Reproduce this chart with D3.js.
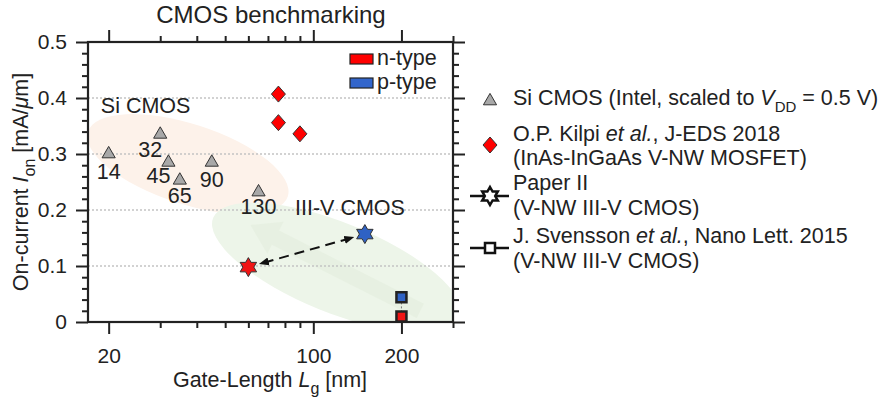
<!DOCTYPE html>
<html>
<head>
<meta charset="utf-8">
<script src="https://cdn.jsdelivr.net/npm/d3@7"></script>
<style>
  body { margin: 0; background: #fff; }
  text { font-family: "Liberation Sans", Arial, sans-serif; fill: #222; }
</style>
</head>
<body>
<div id="chart"></div>
<script>
// ---- data ----
const siNodes = ["14", "32", "45", "65", "90", "130"];
const siLg = [20, 30, 32, 35, 45, 65];
const siIon = [0.30, 0.335, 0.285, 0.253, 0.285, 0.232];

const kilpiLg = [76, 76, 90];
const kilpiIon = [0.407, 0.356, 0.336];

const paperType = ["n", "p"];
const paperLg = [60, 150];
const paperIon = [0.098, 0.157];

const svenssonType = ["n", "p"];
const svenssonLg = [200, 200];
const svenssonIon = [0.01, 0.044];

const xMajorTicks = [20, 100, 200];
const xMinorTicks = [30, 40, 50, 60, 70, 80, 90, 300];
const yMajorTicks = [0, 0.1, 0.2, 0.3, 0.4, 0.5];
const yGridLines = [0.1, 0.2, 0.3, 0.4];

// label offsets for node numbers (px, relative to marker)
const nodeLabelOffset = [[0, 25], [-10, 23], [-10, 21], [0, 23], [0, 25], [0, 22]];

const width = 886, height = 402;
const plot = { left: 88, right: 453, top: 42, bottom: 322 };
const red = "#f01414", blue = "#2f62c4", gray = "#a8a8a8", edge = "#333";

const x = d3.scaleLog().domain([17, 300]).range([plot.left, plot.right]);
const y = d3.scaleLinear().domain([0, 0.5]).range([plot.bottom, plot.top]);

const svg = d3.select("#chart").append("svg")
  .attr("width", width)
  .attr("height", height);

const defs = svg.append("defs");
defs.append("clipPath").attr("id", "plotClip")
  .append("rect")
  .attr("x", plot.left).attr("y", plot.top)
  .attr("width", plot.right - plot.left)
  .attr("height", plot.bottom - plot.top);

["start", "end"].forEach(k => {
  defs.append("marker")
    .attr("id", "arrow-" + k)
    .attr("viewBox", "0 -5 10 10")
    .attr("refX", 5).attr("refY", 0)
    .attr("markerWidth", 5).attr("markerHeight", 5)
    .attr("orient", "auto-start-reverse")
    .append("path")
    .attr("d", "M0,-4L10,0L0,4Z")
    .attr("fill", "#111");
});

function starPath(R) {
  const pts = [];
  for (let i = 0; i < 12; i++) {
    const a = -Math.PI / 2 + i * Math.PI / 6;
    const r = i % 2 === 0 ? R : R * 0.577;
    pts.push([r * Math.cos(a), r * Math.sin(a)]);
  }
  return "M" + pts.map(p => p.join(",")).join("L") + "Z";
}
const diamondPath = "M0,-8L7,0L0,8L-7,0Z";
const squarePath = "M-5,-5H5V5H-5Z";
const trianglePath = d3.symbol(d3.symbolTriangle, 75)();

// ---- shaded regions ----
const regions = svg.append("g").attr("clip-path", "url(#plotClip)");

regions.append("ellipse")
  .attr("transform", `translate(${x(37.3)},${y(0.282)}) rotate(18)`)
  .attr("rx", 105).attr("ry", 40)
  .attr("fill", "#fdf2ea");

regions.append("ellipse")
  .attr("transform", `translate(${x(120)},${y(0.097)}) rotate(22)`)
  .attr("rx", 133).attr("ry", 45)
  .attr("fill", "#edf5e9");

// faint trend arrow inside III-V region
{
  const x0 = x(232), y0 = y(0.02), x1 = x(61), y1 = y(0.173);
  const ang = Math.atan2(y1 - y0, x1 - x0) * 180 / Math.PI;
  const len = Math.hypot(x1 - x0, y1 - y0);
  regions.append("path")
    .attr("transform", `translate(${x0},${y0}) rotate(${ang})`)
    .attr("d", `M0,-8L${len - 28},-8L${len - 28},-18L${len},0L${len - 28},18L${len - 28},8L0,8Z`)
    .attr("fill", "#dfeada")
    .attr("opacity", 0.45);
}

// ---- grid ----
svg.append("g").selectAll("line")
  .data(yGridLines)
  .join("line")
  .attr("x1", plot.left).attr("x2", plot.right)
  .attr("y1", d => y(d)).attr("y2", d => y(d))
  .attr("stroke", "#c4c4c4")
  .attr("stroke-width", 1.5)
  .attr("stroke-dasharray", "2,2");

// ---- axes ----
const fmtY = d => d === 0 ? "0" : d3.format(".1f")(d);
const yMinorTicks = d3.range(0, 0.501, 0.02).filter(v => Math.abs(Math.round(v * 10) - v * 10) > 0.01);

function styleAxis(g) {
  g.select(".domain").remove();
  g.selectAll("line").attr("stroke", "#222").attr("stroke-width", 2);
  g.selectAll("text").attr("font-size", 21).attr("fill", "#222");
}

svg.append("g").attr("transform", `translate(0,${plot.bottom})`)
  .call(d3.axisBottom(x).tickValues(xMajorTicks).tickFormat(d3.format("d")).tickSize(12).tickPadding(14))
  .call(styleAxis);
svg.append("g").attr("transform", `translate(0,${plot.bottom})`)
  .call(d3.axisBottom(x).tickValues(xMinorTicks).tickFormat("").tickSize(6))
  .call(styleAxis);
svg.append("g").attr("transform", `translate(0,${plot.top})`)
  .call(d3.axisTop(x).tickValues(xMajorTicks).tickFormat("").tickSize(12))
  .call(styleAxis);
svg.append("g").attr("transform", `translate(0,${plot.top})`)
  .call(d3.axisTop(x).tickValues(xMinorTicks).tickFormat("").tickSize(6))
  .call(styleAxis);

svg.append("g").attr("transform", `translate(${plot.left},0)`)
  .call(d3.axisLeft(y).tickValues(yMajorTicks).tickFormat(fmtY).tickSize(12).tickPadding(9))
  .call(styleAxis);
svg.append("g").attr("transform", `translate(${plot.left},0)`)
  .call(d3.axisLeft(y).tickValues(yMinorTicks).tickFormat("").tickSize(6))
  .call(styleAxis);
svg.append("g").attr("transform", `translate(${plot.right},0)`)
  .call(d3.axisRight(y).tickValues(yMajorTicks).tickFormat("").tickSize(12))
  .call(styleAxis);
svg.append("g").attr("transform", `translate(${plot.right},0)`)
  .call(d3.axisRight(y).tickValues(yMinorTicks).tickFormat("").tickSize(6))
  .call(styleAxis);

svg.append("rect")
  .attr("x", plot.left).attr("y", plot.top)
  .attr("width", plot.right - plot.left)
  .attr("height", plot.bottom - plot.top)
  .attr("fill", "none")
  .attr("stroke", "#222")
  .attr("stroke-width", 2.2);

// ---- titles ----
svg.append("text")
  .attr("x", 271).attr("y", 23)
  .attr("text-anchor", "middle")
  .attr("font-size", 24)
  .text("CMOS benchmarking");

const xl = svg.append("text")
  .attr("x", 270).attr("y", 387)
  .attr("text-anchor", "middle")
  .attr("font-size", 21.5);
xl.append("tspan").text("Gate-Length ");
xl.append("tspan").attr("font-style", "italic").text("L");
xl.append("tspan").attr("font-size", 16).attr("dy", 7).text("g");
xl.append("tspan").attr("dy", -7).text(" [nm]");

const yl = svg.append("text")
  .attr("transform", `translate(28,${(plot.top + plot.bottom) / 2}) rotate(-90)`)
  .attr("text-anchor", "middle")
  .attr("font-size", 21.5);
yl.append("tspan").text("On-current ");
yl.append("tspan").attr("font-style", "italic").text("I");
yl.append("tspan").attr("font-size", 16).attr("dy", 7).text("on");
yl.append("tspan").attr("dy", -7).text(" [mA/");
yl.append("tspan").attr("font-style", "italic").text("\u03bc");
yl.append("tspan").text("m]");

// ---- region annotations ----
svg.append("text").attr("x", x(18.8)).attr("y", y(0.373)).attr("font-size", 21.5).text("Si CMOS");
svg.append("text").attr("x", x(86.6)).attr("y", y(0.191)).attr("font-size", 21.5).text("III-V CMOS");

// ---- Si CMOS triangles ----
const siData = siNodes.map((n, i) => ({ node: n, lg: siLg[i], ion: siIon[i], off: nodeLabelOffset[i] }));
svg.append("g").selectAll("path")
  .data(siData)
  .join("path")
  .attr("transform", d => `translate(${x(d.lg)},${y(d.ion)})`)
  .attr("d", trianglePath)
  .attr("fill", gray)
  .attr("stroke", edge)
  .attr("stroke-width", 1);
svg.append("g").selectAll("text")
  .data(siData)
  .join("text")
  .attr("x", d => x(d.lg) + d.off[0])
  .attr("y", d => y(d.ion) + d.off[1])
  .attr("text-anchor", "middle")
  .attr("font-size", 21.5)
  .text(d => d.node);

// ---- Kilpi diamonds ----
svg.append("g").selectAll("path")
  .data(kilpiLg.map((lg, i) => ({ lg, ion: kilpiIon[i] })))
  .join("path")
  .attr("transform", d => `translate(${x(d.lg)},${y(d.ion)})`)
  .attr("d", diamondPath)
  .attr("fill", "#ff0000")
  .attr("stroke", edge)
  .attr("stroke-width", 1);

// ---- Paper II stars + double arrow ----
const paperData = paperType.map((t, i) => ({ t, lg: paperLg[i], ion: paperIon[i] }));
{
  const a = paperData[0], b = paperData[1];
  const ax = x(a.lg), ay = y(a.ion), bx = x(b.lg), by = y(b.ion);
  const len = Math.hypot(bx - ax, by - ay), ux = (bx - ax) / len, uy = (by - ay) / len;
  svg.append("line")
    .attr("x1", ax + ux * 16).attr("y1", ay + uy * 16)
    .attr("x2", bx - ux * 16).attr("y2", by - uy * 16)
    .attr("stroke", "#111")
    .attr("stroke-width", 2)
    .attr("stroke-dasharray", "10,6")
    .attr("marker-start", "url(#arrow-start)")
    .attr("marker-end", "url(#arrow-end)");
}
svg.append("g").selectAll("path")
  .data(paperData)
  .join("path")
  .attr("transform", d => `translate(${x(d.lg)},${y(d.ion)})`)
  .attr("d", starPath(9.5))
  .attr("fill", d => d.t === "n" ? red : blue)
  .attr("stroke", edge)
  .attr("stroke-width", 1);

// ---- Svensson squares ----
const svData = svenssonType.map((t, i) => ({ t, lg: svenssonLg[i], ion: svenssonIon[i] }));
svg.append("line")
  .attr("x1", x(svData[0].lg)).attr("x2", x(svData[1].lg))
  .attr("y1", y(svData[0].ion)).attr("y2", y(svData[1].ion))
  .attr("stroke", "#777")
  .attr("stroke-width", 1)
  .attr("stroke-dasharray", "2,2");
svg.append("g").selectAll("path")
  .data(svData)
  .join("path")
  .attr("transform", d => `translate(${x(d.lg)},${y(d.ion)})`)
  .attr("d", squarePath)
  .attr("fill", d => d.t === "n" ? red : blue)
  .attr("stroke", "#222")
  .attr("stroke-width", 2.5);

// ---- in-plot legend (n/p type) ----
const typeLegend = svg.append("g").attr("transform", "translate(350,54)");
[["n-type", "#ff0000"], ["p-type", "#3366cc"]].forEach(([label, c], i) => {
  typeLegend.append("rect")
    .attr("x", 0).attr("y", i * 24)
    .attr("width", 23).attr("height", 10)
    .attr("fill", c)
    .attr("stroke", "#222")
    .attr("stroke-width", 1.2);
  typeLegend.append("text")
    .attr("x", 27).attr("y", i * 24 + 11)
    .attr("font-size", 21.5)
    .text(label);
});

// ---- right-hand legend ----
const lg = svg.append("g");
const lx = 513, mx = 490, fs = 21.5;

lg.append("path").attr("transform", `translate(${mx},101)`).attr("d", trianglePath)
  .attr("fill", gray).attr("stroke", edge).attr("stroke-width", 1);
const t1 = lg.append("text").attr("x", lx).attr("y", 105).attr("font-size", fs);
t1.append("tspan").text("Si CMOS (Intel, scaled to ");
t1.append("tspan").attr("font-style", "italic").text("V");
t1.append("tspan").attr("font-size", 15).attr("dy", 7).text("DD");
t1.append("tspan").attr("dy", -7).text(" = 0.5 V)");

lg.append("path").attr("transform", `translate(${mx},145)`).attr("d", diamondPath)
  .attr("fill", "#ff0000").attr("stroke", edge).attr("stroke-width", 1);
const t2 = lg.append("text").attr("x", lx).attr("y", 141).attr("font-size", fs);
t2.append("tspan").text("O.P. Kilpi ");
t2.append("tspan").attr("font-style", "italic").text("et al.");
t2.append("tspan").text(", J-EDS 2018");
lg.append("text").attr("x", lx).attr("y", 165).attr("font-size", fs).text("(InAs-InGaAs V-NW MOSFET)");

lg.append("line").attr("x1", 470).attr("x2", 509).attr("y1", 196).attr("y2", 196)
  .attr("stroke", "#111").attr("stroke-width", 2.5);
lg.append("path").attr("transform", `translate(${mx},196)`).attr("d", starPath(9))
  .attr("fill", "#fff").attr("stroke", "#111").attr("stroke-width", 2.5);
lg.append("text").attr("x", lx).attr("y", 190).attr("font-size", fs).text("Paper II");
lg.append("text").attr("x", lx).attr("y", 215).attr("font-size", fs).text("(V-NW III-V CMOS)");

lg.append("line").attr("x1", 470).attr("x2", 509).attr("y1", 248).attr("y2", 248)
  .attr("stroke", "#111").attr("stroke-width", 2.5);
lg.append("path").attr("transform", `translate(${mx},248)`).attr("d", squarePath)
  .attr("fill", "#fff").attr("stroke", "#111").attr("stroke-width", 2.5);
const t4 = lg.append("text").attr("x", lx).attr("y", 243).attr("font-size", fs);
t4.append("tspan").text("J. Svensson ");
t4.append("tspan").attr("font-style", "italic").text("et al.");
t4.append("tspan").text(", Nano Lett. 2015");
lg.append("text").attr("x", lx).attr("y", 268).attr("font-size", fs).text("(V-NW III-V CMOS)");
</script>
</body>
</html>
